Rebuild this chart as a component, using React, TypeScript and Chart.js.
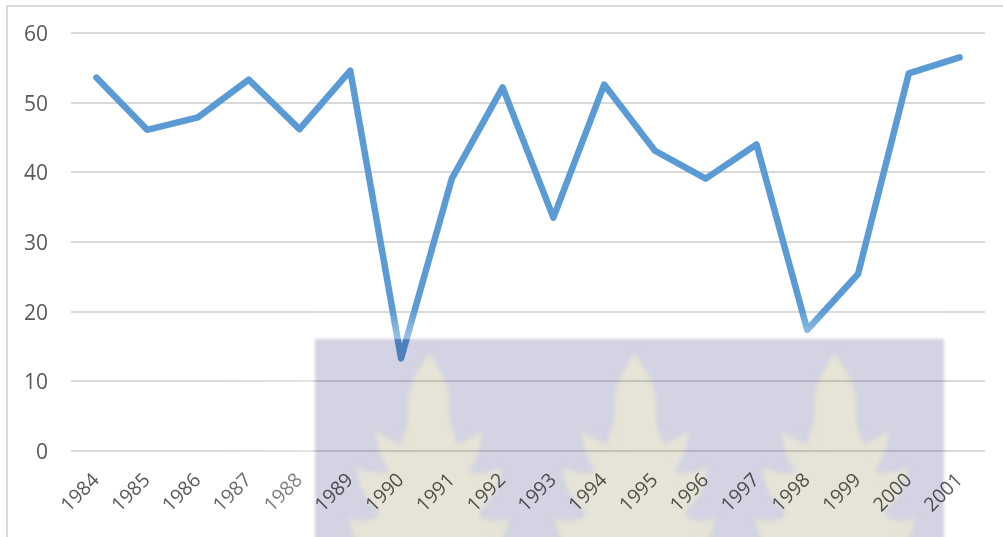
import React, { useEffect, useRef } from "react";
import { Chart, registerables } from "chart.js";

Chart.register(...registerables);

const years = ["1984","1985","1986","1987","1988","1989","1990","1991","1992","1993","1994","1995","1996","1997","1998","1999","2000","2001"];
const values = [53.6,46.1,47.9,53.3,46.2,54.6,13.3,39.1,52.2,33.5,52.6,43.1,39.1,44.0,17.4,25.4,54.2,56.5];
const plantCentres = [429, 635, 835];

function plantSide(l: CanvasRenderingContext2D, cx: number, top: number, s: number) {
  const p = (x: number) => cx + s * x;
  l.bezierCurveTo(p(9), top + 13, p(20), top + 28, p(21), top + 48);
  l.bezierCurveTo(p(21), top + 66, p(13), top + 78, p(10), top + 92);
  l.quadraticCurveTo(p(32), top + 94, p(53), top + 76);
  l.quadraticCurveTo(p(52), top + 100, p(39), top + 118);
  l.quadraticCurveTo(p(55), top + 122, p(72), top + 113);
  l.quadraticCurveTo(p(72), top + 140, p(46), top + 160);
  l.quadraticCurveTo(p(62), top + 172, p(80), top + 164);
  l.quadraticCurveTo(p(78), top + 185, p(62), top + 200);
}

function drawPlant(l: CanvasRenderingContext2D, cx: number) {
  const top = 354;
  l.beginPath();
  l.moveTo(cx, top);
  plantSide(l, cx, top, 1);
  l.lineTo(cx - 62, top + 200);
  l.closePath();
  l.fill();
  l.beginPath();
  l.moveTo(cx, top);
  plantSide(l, cx, top, -1);
  l.lineTo(cx + 62, top + 200);
  l.closePath();
  l.fill();
}

function band(ctx: CanvasRenderingContext2D, x0: number, y0: number, x1: number, y1: number, rx: number, ry: number, rw: number, rh: number, a: number) {
  const g = ctx.createLinearGradient(x0, y0, x1, y1);
  g.addColorStop(0, "rgba(255,255,255,0)");
  g.addColorStop(1, `rgba(255,255,255,${a})`);
  ctx.fillStyle = g;
  ctx.fillRect(rx, ry, rw, rh);
}

const decoration = {
  id: "decoration",
  beforeDraw(chart: Chart) {
    const ctx = chart.ctx;
    ctx.save();
    ctx.fillStyle = "#ffffff";
    ctx.fillRect(0, 0, chart.width, chart.height);
    ctx.fillStyle = "#d9d9d9";
    ctx.fillRect(6, 5, 997, 2);
    ctx.fillRect(6, 5, 2, 532);
    ctx.restore();
  },
  afterDraw(chart: Chart) {
    const ctx = chart.ctx;
    ctx.save();
    band(ctx, 200, 0, 315, 0, 200, 339, 115, 198, 0.3);
    band(ctx, 0, 310, 0, 339, 315, 310, 629, 29, 0.4);
    ctx.globalCompositeOperation = "multiply";
    const layer = document.createElement("canvas");
    layer.width = chart.width;
    layer.height = chart.height;
    const l = layer.getContext("2d")!;
    l.filter = "blur(1.5px)";
    l.fillStyle = "#d3d3e3";
    l.fillRect(315, 339, 629, 210);
    l.filter = "blur(2.5px)";
    l.fillStyle = "#e6e4d6";
    plantCentres.forEach((c) => drawPlant(l, c));
    ctx.drawImage(layer, 0, 0);
    ctx.restore();
  },
};

export default function App() {
  const ref = useRef<HTMLCanvasElement>(null);
  useEffect(() => {
    document.body.style.margin = "0";
    document.body.style.overflow = "hidden";
    const chart = new Chart(ref.current!, {
      type: "line",
      data: {
        labels: years,
        datasets: [{
          data: values,
          borderColor: "#5b9bd5",
          borderWidth: 6.5,
          pointRadius: 0,
          tension: 0,
          borderCapStyle: "round",
          borderJoinStyle: "round",
          clip: false,
        }],
      },
      options: {
        responsive: false,
        animation: false,
        layout: { padding: { top: 33, right: 18, left: 0, bottom: 0 } },
        plugins: { legend: { display: false }, tooltip: { enabled: false } },
        scales: {
          x: {
            offset: true,
            grid: { display: false },
            border: { display: false },
            ticks: {
              color: "#595959",
              font: { family: "Open Sans", size: 19.5 },
              minRotation: 45,
              maxRotation: 45,
              autoSkip: false,
              padding: 10,
            },
            afterFit(axis: any) {
              axis.height = 86;
              axis.paddingTop = 0;
              axis.paddingBottom = 0;
            },
          },
          y: {
            min: 0,
            max: 60,
            grid: { color: "#d9d9d9", lineWidth: 2, drawTicks: false },
            border: { display: false },
            ticks: {
              stepSize: 10,
              color: "#595959",
              font: { family: "Open Sans", size: 21 },
              padding: 23,
              labelOffset: 2,
            },
            afterFit(axis: any) {
              axis.width = 71;
              axis.paddingTop = 0;
              axis.paddingBottom = 0;
            },
          },
        },
      },
      plugins: [decoration],
    } as any);
    return () => chart.destroy();
  }, []);
  return <canvas ref={ref} width={1003} height={537} style={{ display: "block" }} />;
}
